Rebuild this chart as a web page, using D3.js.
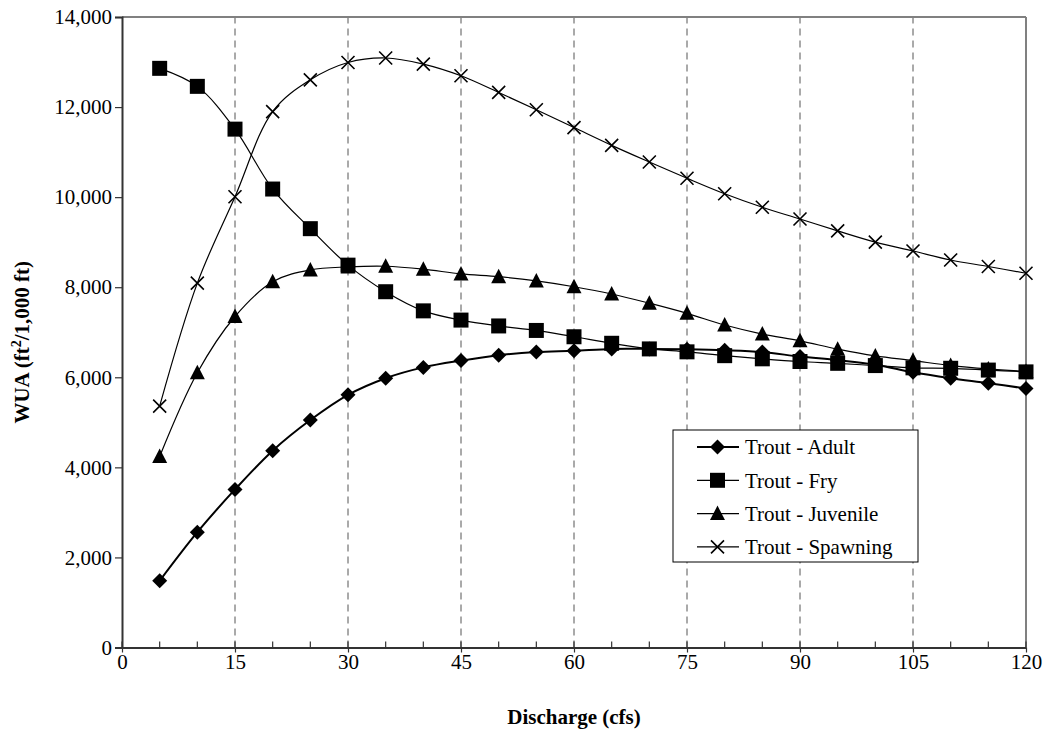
<!DOCTYPE html>
<html>
<head>
<meta charset="utf-8">
<script src="https://cdn.jsdelivr.net/npm/d3@7"></script>
<style>
  html, body { margin: 0; padding: 0; background: #fff; }
  svg, svg text { font-family: "Times New Roman", "Liberation Serif", "DejaVu Serif", serif !important; }
</style>
</head>
<body>
<svg id="chart" width="1045" height="730"></svg>
<script>
// Weighted usable area by discharge for four trout life stages
const discharge = [5, 10, 15, 20, 25, 30, 35, 40, 45, 50, 55, 60, 65, 70, 75, 80, 85, 90, 95, 100, 105, 110, 115, 120];
const troutAdult = [1480, 2560, 3510, 4370, 5050, 5610, 5980, 6220, 6370, 6490, 6560, 6590, 6630, 6630, 6620, 6600, 6560, 6460, 6380, 6280, 6110, 5980, 5870, 5750];
const troutFry = [12860, 12460, 11510, 10180, 9300, 8490, 7900, 7475, 7270, 7140, 7040, 6900, 6755, 6630, 6565, 6480, 6410, 6350, 6310, 6260, 6210, 6200, 6160, 6120];
const troutJuvenile = [4240, 6100, 7350, 8120, 8385, 8450, 8465, 8400, 8295, 8235, 8140, 8010, 7850, 7645, 7420, 7160, 6960, 6810, 6625, 6475, 6370, 6260, 6185, 6130];
const troutSpawning = [5360, 8090, 10010, 11900, 12605, 12990, 13090, 12955, 12695, 12325, 11940, 11545, 11150, 10780, 10420, 10075, 9775, 9515, 9250, 9000, 8805, 8605, 8460, 8310];

const seriesNames = ["Trout - Adult", "Trout - Fry", "Trout - Juvenile", "Trout - Spawning"];
const xMajorTicks = [0, 15, 30, 45, 60, 75, 90, 105, 120];
const xMinorTicks = d3.range(0, 121, 5);
const yTicks = [0, 2000, 4000, 6000, 8000, 10000, 12000, 14000];
const xTitle = "Discharge (cfs)";

const series = [
  { name: seriesNames[0], values: troutAdult, marker: "diamond", width: 2 },
  { name: seriesNames[1], values: troutFry, marker: "square", width: 1.2 },
  { name: seriesNames[2], values: troutJuvenile, marker: "triangle", width: 1.2 },
  { name: seriesNames[3], values: troutSpawning, marker: "cross", width: 1.2 }
];

const FONT = 21;
const serif = "'Times New Roman', 'Liberation Serif', 'DejaVu Serif', serif";
const svg = d3.select("#chart").attr("font-family", serif);
const x = d3.scaleLinear().domain([0, 120]).range([122, 1026]);
const y = d3.scaleLinear().domain([0, 14000]).range([647.5, 17]);

// Marker shapes, centred on the origin
function markerPath(type) {
  const p = d3.path();
  if (type === "diamond") {
    const r = 7.5;
    p.moveTo(0, -r); p.lineTo(r, 0); p.lineTo(0, r); p.lineTo(-r, 0); p.closePath();
  } else if (type === "square") {
    const h = 7.5;
    p.rect(-h, -h, 2 * h, 2 * h);
  } else if (type === "triangle") {
    p.moveTo(0, -8); p.lineTo(7.5, 6.5); p.lineTo(-7.5, 6.5); p.closePath();
  } else {
    const c = 6.5;
    p.moveTo(-c, -c); p.lineTo(c, c); p.moveTo(c, -c); p.lineTo(-c, c);
  }
  return p.toString();
}
function drawMarker(g, type) {
  const m = g.append("path").attr("d", markerPath(type));
  if (type === "cross") m.attr("fill", "none").attr("stroke", "#000").attr("stroke-width", 1.6);
  else m.attr("fill", "#000");
  return m;
}

// Vertical dashed gridlines
svg.append("g").selectAll("line")
  .data(xMajorTicks.filter(d => d > 0 && d < 120))
  .join("line")
  .attr("x1", d => x(d)).attr("x2", d => x(d))
  .attr("y1", y(0)).attr("y2", y(14000))
  .attr("stroke", "#555").attr("stroke-width", 1)
  .attr("stroke-dasharray", "7,5");

// Top and right frame
svg.append("line").attr("x1", x(0)).attr("x2", x(120)).attr("y1", y(14000)).attr("y2", y(14000))
  .attr("stroke", "#808080").attr("stroke-width", 2);
svg.append("line").attr("x1", x(120)).attr("x2", x(120)).attr("y1", y(14000)).attr("y2", y(0))
  .attr("stroke", "#808080").attr("stroke-width", 2);

// Y axis
const yAxis = svg.append("g").attr("transform", `translate(${x(0)},0)`)
  .call(d3.axisLeft(y).tickValues(yTicks).tickSize(7).tickPadding(3).tickFormat(d3.format(",")));
yAxis.attr("font-family", serif);
yAxis.select(".domain").attr("stroke", "#333").attr("stroke-width", 2);
yAxis.selectAll(".tick line").attr("stroke", "#333").attr("stroke-width", 1.2);
yAxis.selectAll("text").attr("font-size", FONT).attr("fill", "#000");

// X axis: minor ticks upward every 5, major ticks crossing the axis
svg.append("g").selectAll("line")
  .data(xMinorTicks)
  .join("line")
  .attr("x1", d => x(d)).attr("x2", d => x(d))
  .attr("y1", y(0)).attr("y2", y(0) - 6)
  .attr("stroke", "#333").attr("stroke-width", 1.2);
const xAxis = svg.append("g").attr("transform", `translate(0,${y(0)})`)
  .call(d3.axisBottom(x).tickValues(xMajorTicks).tickSize(5).tickPadding(2).tickSizeOuter(0));
xAxis.attr("font-family", serif);
xAxis.select(".domain").attr("stroke", "#333").attr("stroke-width", 2);
xAxis.selectAll(".tick line").attr("stroke", "#333").attr("stroke-width", 1.2);
xAxis.selectAll("text").attr("font-size", FONT).attr("fill", "#000");

// Axis titles
svg.append("text").attr("x", (x(0) + x(120)) / 2).attr("y", 724)
  .attr("text-anchor", "middle").attr("font-size", FONT).attr("font-weight", "bold")
  .text(xTitle);
const yTitle = svg.append("text")
  .attr("transform", `translate(29,${(y(0) + y(14000)) / 2 + 10}) rotate(-90)`)
  .attr("text-anchor", "middle").attr("font-size", FONT).attr("font-weight", "bold");
yTitle.append("tspan").text("WUA (ft");
yTitle.append("tspan").attr("dy", -8).attr("font-size", 14).text("2");
yTitle.append("tspan").attr("dy", 8).text("/1,000 ft)");

// Series lines and markers
const line = d3.line()
  .x((d, i) => x(discharge[i]))
  .y(d => y(d))
  .curve(d3.curveCatmullRom.alpha(0.5));

series.forEach(s => {
  svg.append("path").datum(s.values)
    .attr("d", line)
    .attr("fill", "none").attr("stroke", "#000").attr("stroke-width", s.width);
});
series.forEach(s => {
  const g = svg.append("g");
  s.values.forEach((v, i) => {
    const mg = g.append("g").attr("transform", `translate(${x(discharge[i])},${y(v)})`);
    drawMarker(mg, s.marker);
  });
});

// Legend
const legend = svg.append("g").attr("transform", "translate(673,430)");
legend.append("rect").attr("x", 0).attr("y", 0).attr("width", 245).attr("height", 132)
  .attr("fill", "#fff").attr("stroke", "#000").attr("stroke-width", 1);
series.forEach((s, i) => {
  const row = legend.append("g").attr("transform", `translate(0,${17 + i * 33.3})`);
  row.append("line").attr("x1", 24).attr("x2", 66).attr("y1", 0).attr("y2", 0)
    .attr("stroke", "#000").attr("stroke-width", s.width);
  const mg = row.append("g").attr("transform", "translate(44.5,0)");
  drawMarker(mg, s.marker);
  row.append("text").attr("x", 72).attr("y", 0).attr("dy", "0.35em")
    .attr("font-size", FONT).text(s.name);
});
</script>
</body>
</html>
